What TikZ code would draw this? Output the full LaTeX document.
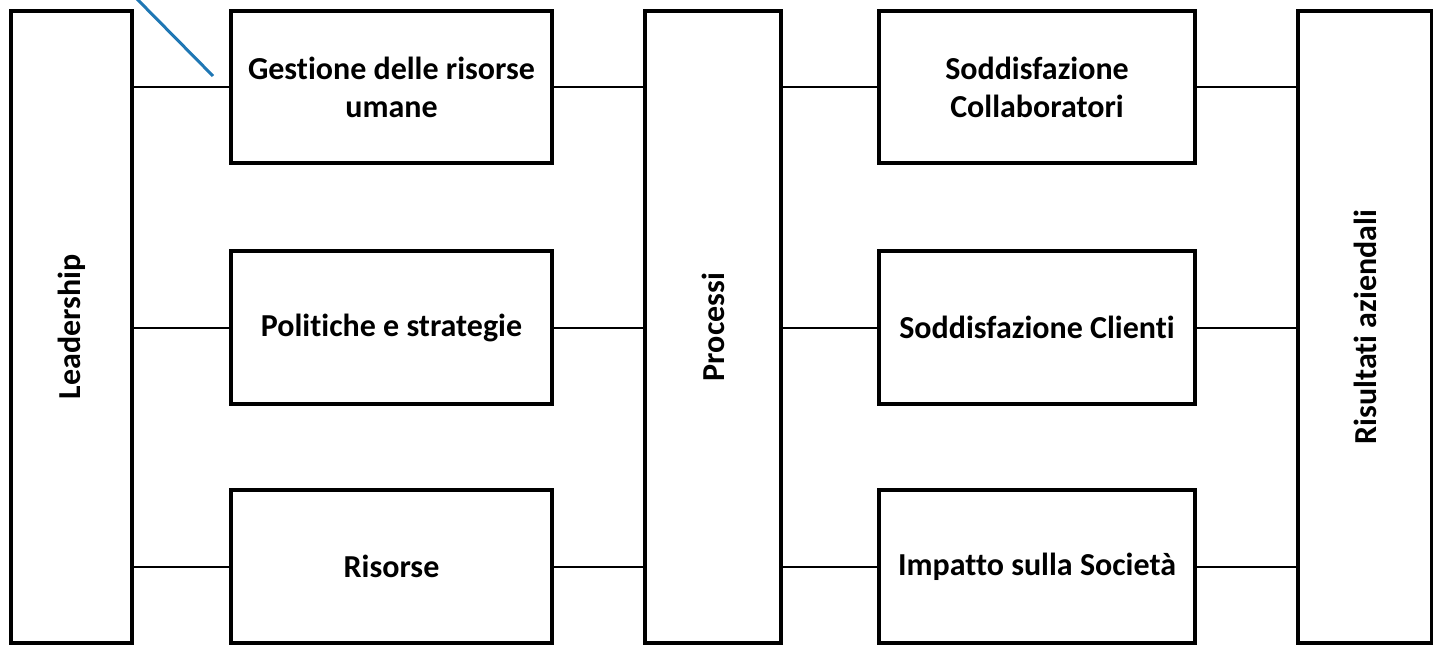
\documentclass[tikz,border=0pt]{standalone}
\usepackage{fontspec}
\setmainfont{Carlito}[Ligatures={NoCommon}]
\definecolor{calloutblue}{RGB}{31,119,180}
\begin{document}
\begin{tikzpicture}[x=1pt,y=-1pt,
  lbl/.style={font=\fontsize{32}{38}\selectfont\bfseries},
  box/.style={draw=black,line width=4pt,fill=white,inner sep=0pt,outer sep=0pt,
    align=center,lbl},
  link/.style={draw=black,line width=2pt}]
\useasboundingbox (0,0) rectangle (1433,645);
\node[box,minimum width=121pt,minimum height=632pt] (lead) at (71.5,327) {};
\node[rotate=90,lbl] (leadt) at (lead.center) {Leadership};
\node[box,minimum width=321pt,minimum height=152pt] (gest) at (391.5,87) {Gestione delle risorse\\umane};
\node[box,minimum width=321pt,minimum height=153pt] (pol) at (391.5,327.5) {Politiche e strategie};
\node[box,minimum width=321pt,minimum height=153pt] (ris) at (391.5,566.5) {Risorse};
\node[box,minimum width=136pt,minimum height=632pt] (proc) at (713,327) {};
\node[rotate=90,lbl] (proct) at (proc.center) {Processi};
\node[box,minimum width=316pt,minimum height=152pt] (sodc) at (1037,87) {Soddisfazione\\Collaboratori};
\node[box,minimum width=316pt,minimum height=153pt] (sodk) at (1037,327.5) {Soddisfazione Clienti};
\node[box,minimum width=316pt,minimum height=153pt] (imp) at (1037,566.5) {Impatto sulla Società};
\node[box,minimum width=134pt,minimum height=632pt] (risa) at (1365,327) {};
\node[rotate=90,lbl] (risat) at (risa.center) {Risultati aziendali};
\foreach \b in {gest,pol,ris}{
  \draw[link] (lead.east |- \b.west) -- (\b.west);
  \draw[link] (\b.east) -- (proc.west |- \b.east);
}
\foreach \b in {sodc,sodk,imp}{
  \draw[link] (proc.east |- \b.west) -- (\b.west);
  \draw[link] (\b.east) -- (risa.west |- \b.east);
}
\coordinate (c1) at (137,-1);
\coordinate (c2) at (213,76);
\draw[calloutblue,line width=3pt] (c1) -- (c2);
\end{tikzpicture}
\end{document}
